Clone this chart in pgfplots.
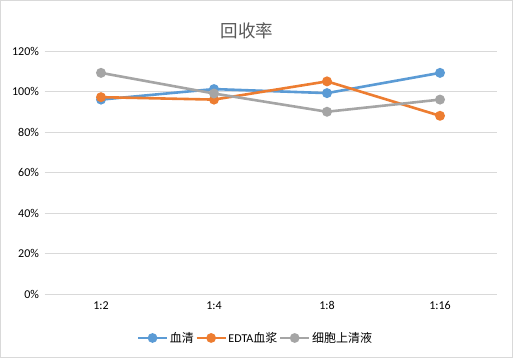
\documentclass[border=0pt]{standalone}
\usepackage{pgfplots}
\pgfplotsset{compat=1.18}
\usepackage{fontspec}
\setmainfont{Carlito}
\newfontfamily\cjk{Noto Sans CJK SC}
\definecolor{cblue}{HTML}{5B9BD5}
\definecolor{corange}{HTML}{ED7D31}
\definecolor{cgray}{HTML}{A5A5A5}
\definecolor{gridc}{HTML}{D9D9D9}
\definecolor{txt}{HTML}{595959}
\begin{document}
\begin{tikzpicture}
\fill[white] (0,0) rectangle (513bp,358bp);
\draw[gridc, line width=0.8bp] (0.4bp,0.4bp) rectangle (512.6bp,357.6bp);
\node[text=txt, font=\cjk\fontsize{17.5bp}{20bp}\selectfont] at (247bp,327bp) {回收率};
\begin{axis}[
  at={(44.5bp,64bp)}, anchor=south west,
  scale only axis, width=452bp, height=243bp,
  xmin=-0.5, xmax=3.5, ymin=0, ymax=120,
  xtick={0,1,2,3}, xticklabels={1:2,1:4,1:8,1:16},
  ytick={0,20,40,60,80,100,120},
  yticklabel={\pgfmathprintnumber{\tick}\%},
  /pgf/number format/assume math mode=true,
  ymajorgrids, grid style={gridc, line width=0.8bp},
  axis line style={draw=none},
  major tick length=0pt,
  tick label style={font=\fontsize{12bp}{14bp}\selectfont, text=black},
  yticklabel style={xshift=-2bp},
  xticklabel style={yshift=-4bp},
  legend columns=3,
  legend style={draw=none, at={(0.466,-0.181)}, anchor=center,
    font=\fontsize{12bp}{14bp}\selectfont, text=black,
    nodes={inner xsep=1.5bp},
    /tikz/every even column/.append style={column sep=0bp}},
  legend image code/.code={
    \draw[#1, line width=2.6bp] (0bp,0bp) -- (29bp,0bp);
    \fill[#1] (14.5bp,0bp) circle (3.5bp);
  },
]
\addplot[cblue, line width=2.6bp, mark=*, mark size=3.6bp, mark options={solid}] coordinates {(0,96) (1,101.2) (2,99.2) (3,109.2)};
\addlegendentry{\cjk 血清}
\addplot[corange, line width=2.6bp, mark=*, mark size=3.6bp] coordinates {(0,97.2) (1,96) (2,105) (3,88)};
\addlegendentry{EDTA\cjk 血浆}
\addplot[cgray, line width=2.6bp, mark=*, mark size=3.6bp] coordinates {(0,109.2) (1,99) (2,90) (3,96)};
\addlegendentry{\cjk 细胞上清液}
\end{axis}
\end{tikzpicture}
\end{document}
